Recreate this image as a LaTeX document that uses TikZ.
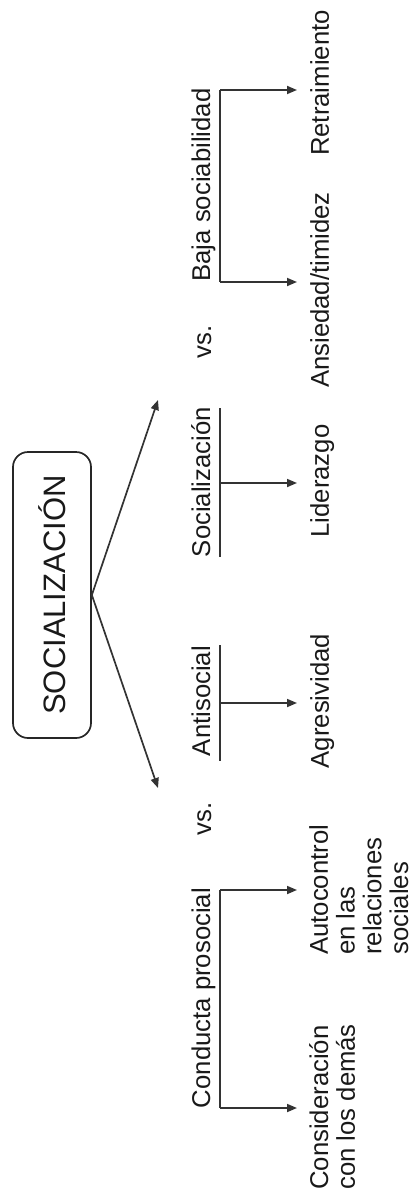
\documentclass[tikz,border=0pt]{standalone}
\usepackage{fontspec}
\setmainfont{Liberation Sans}
\usetikzlibrary{arrows.meta}
\begin{document}
\begin{tikzpicture}[x=1pt,y=-1pt,
  lbl/.style={rotate=90, inner sep=0pt, font=\fontsize{25.7}{26.8}\selectfont, text=black!90},
  src/.style={lbl, anchor=base},
  tgt/.style={lbl, anchor=north},
  tgtblock/.style={lbl, anchor=north west, align=left},
  ln/.style={line width=1.7pt, draw=black!80},
  arr/.style={ln, -{Triangle[length=10pt,width=8pt]}},
  toarr/.style={arr, shorten >=13pt},
]
\useasboundingbox (0,0) rectangle (412,1193);

% central concept
\node[draw=black!85, line width=1.7pt, rounded corners=15pt, rotate=90,
      minimum width=286pt, minimum height=78pt, inner sep=0pt,
      font=\fontsize{31}{31}\selectfont, text=black!90] (soc) at (52,595) {SOCIALIZACIÓN};

% upper-level labels
\node[src] (baja) at (210,185) {Baja sociabilidad};
\node[src] (vs1)  at (211,342) {vs.};
\node[src] (sozn) at (210,482) {Socialización};
\node[src] (anti) at (210,701) {Antisocial};
\node[src] (vs2)  at (211,819) {vs.};
\node[src] (cond) at (210,998) {Conducta prosocial};

% lower-level labels
\node[tgt] (ret) at (310,83)  {Retraimiento};
\node[tgt] (ans) at (310,290) {Ansiedad/timidez};
\node[tgt] (lid) at (310,481) {Liderazgo};
\node[tgt] (agr) at (310,701) {Agresividad};
\node[tgtblock] (auto) at (309,955)  {Autocontrol\\en las\\relaciones\\sociales};
\node[tgtblock] (cons) at (309,1190) {Consideración\\con los demás};

% arrows out of the central box
\coordinate (up)   at (158,400);
\coordinate (down) at (158,788);
\draw[arr] (soc.south) -- (up);
\draw[arr] (soc.south) -- (down);

% bracket under "Baja sociabilidad"
\coordinate (b1t) at (220,90);
\coordinate (b1b) at (220,282);
\draw[ln] (b1t) -- (b1b);
\draw[toarr] (b1t) -- (b1t -| ret.north);
\draw[toarr] (b1b) -- (b1b -| ans.north);

% T under "Socialización"
\coordinate (s2a) at (220,408);
\coordinate (s2b) at (220,557);
\coordinate (s2m) at (220,483);
\draw[ln] (s2a) -- (s2b);
\draw[toarr] (s2m) -- (s2m -| lid.north);

% T under "Antisocial"
\coordinate (s3a) at (220,645);
\coordinate (s3b) at (220,761);
\coordinate (s3m) at (220,703);
\draw[ln] (s3a) -- (s3b);
\draw[toarr] (s3m) -- (s3m -| agr.north);

% bracket under "Conducta prosocial"
\coordinate (b4t) at (220,890);
\coordinate (b4b) at (220,1108);
\draw[ln] (b4t) -- (b4b);
\draw[toarr, shorten >=12pt] (b4t) -- (b4t -| auto.north);
\draw[toarr, shorten >=12pt] (b4b) -- (b4b -| cons.north);
\end{tikzpicture}
\end{document}
